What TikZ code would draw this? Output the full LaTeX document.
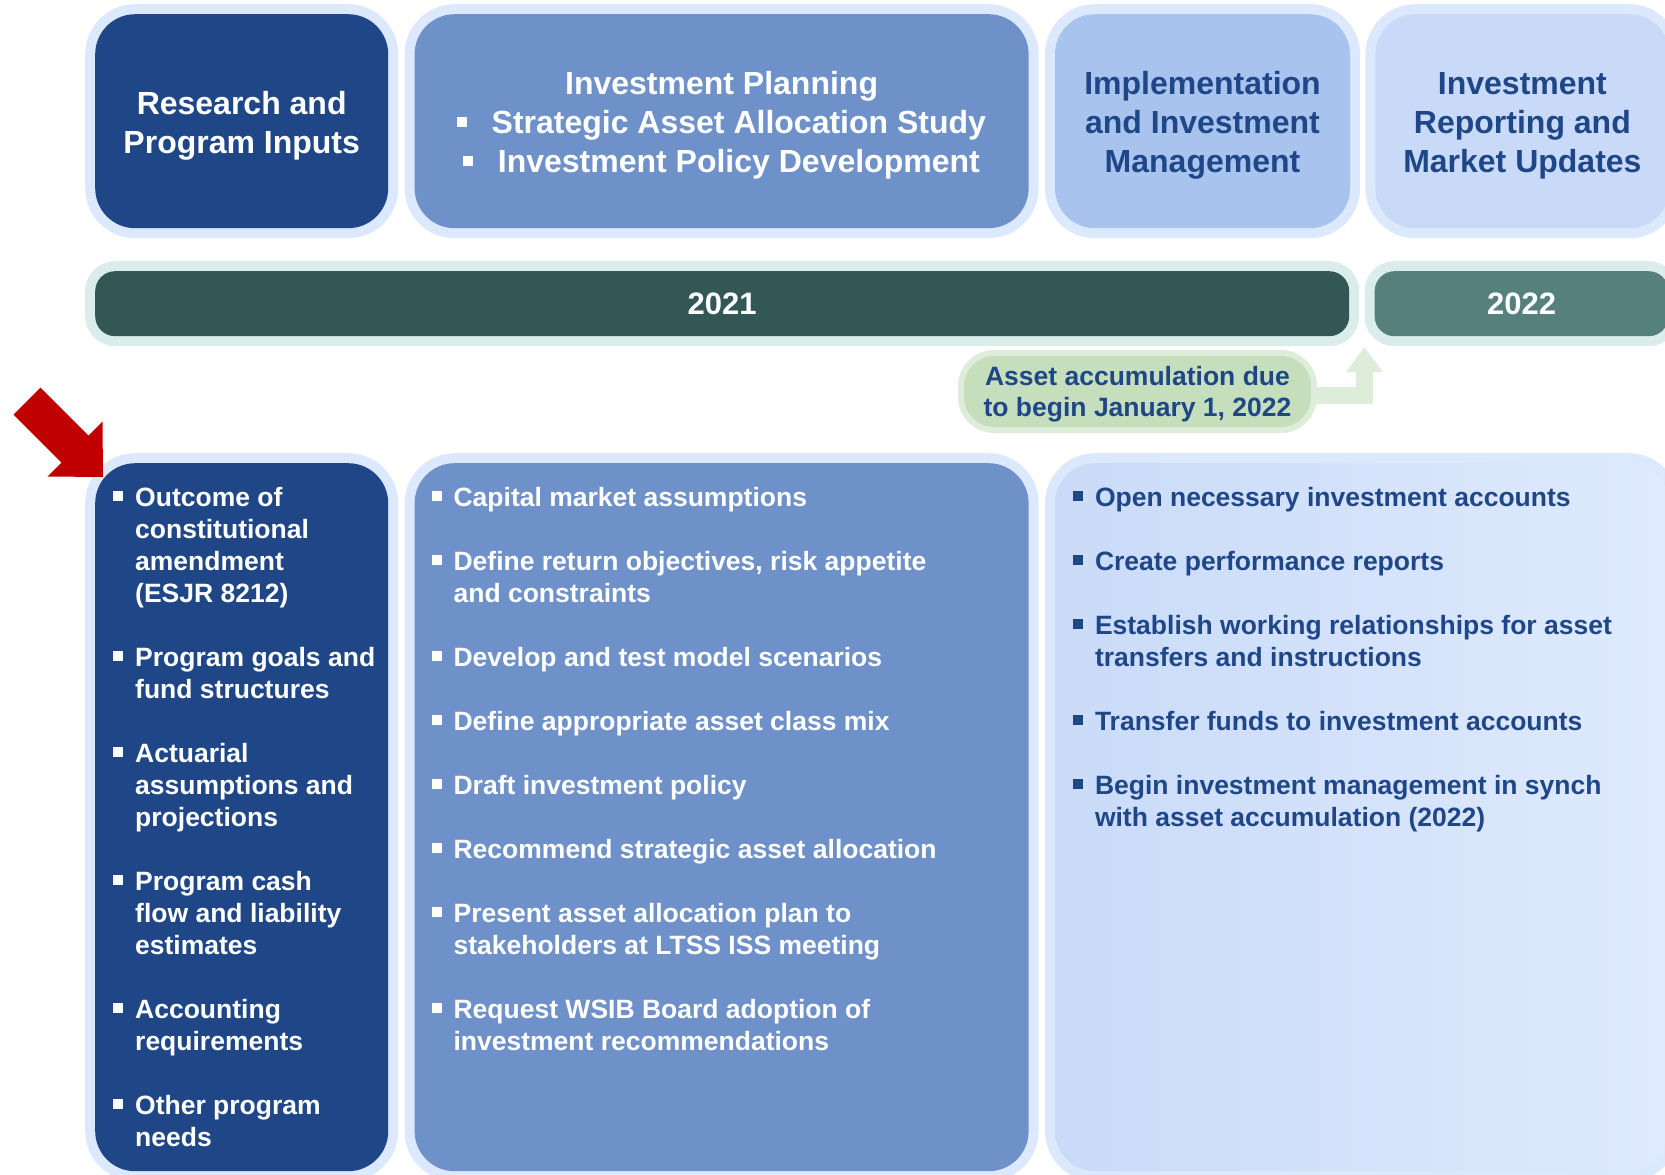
\documentclass[tikz,border=0pt]{standalone}
\usepackage{fontspec}
\setmainfont{Liberation Sans}
\usetikzlibrary{positioning,calc,arrows.meta}
\definecolor{navy}{HTML}{1F4788}
\definecolor{planblue}{HTML}{6E91C9}
\definecolor{implblue}{HTML}{A8C3EE}
\definecolor{reptblue}{HTML}{C8DAF8}
\definecolor{halo}{HTML}{DCE8FC}
\definecolor{colleft}{HTML}{C9DBF8}
\definecolor{colright}{HTML}{DFEAFD}
\definecolor{yrdark}{HTML}{325755}
\definecolor{yrlight}{HTML}{55807C}
\definecolor{yrhalo}{HTML}{DAEDEB}
\definecolor{notegreen}{HTML}{C5DFBD}
\definecolor{notehalo}{HTML}{DEEDD9}
\definecolor{arrowred}{HTML}{C00000}

\newcommand{\sqb}{\rule[5pt]{10pt}{10pt}}
\newcommand{\topsq}{\rule[7pt]{9.5pt}{9.5pt}\hspace{25pt}}
\newcommand{\headstrut}{\rule{0pt}{32pt}}
\newcommand{\notestrut}{\rule{0pt}{25pt}}

\tikzset{
  stage/.style={rounded corners=40pt, inner sep=0pt, minimum height=214pt, align=center,
    font=\fontsize{32}{39}\selectfont\bfseries, preaction={draw=halo, line width=20pt}},
  yearbar/.style={rounded corners=20pt, inner sep=0pt, minimum height=65pt, text=white,
    font=\fontsize{31}{37}\selectfont\bfseries, preaction={draw=yrhalo, line width=20pt}},
  column/.style={rounded corners=40pt, inner sep=0pt, minimum height=708pt,
    preaction={draw=halo, line width=20pt}},
  listtext/.style={inner sep=0pt, anchor=base west, font=\fontsize{26.5}{32}\selectfont\bfseries},
  note/.style={rounded corners=30pt, inner sep=0pt, fill=notegreen, text=navy, align=center,
    minimum width=347pt, minimum height=71pt, font=\fontsize{26.5}{31}\selectfont\bfseries,
    preaction={draw=notehalo, line width=12pt}},
  noteline/.style={draw=notehalo, line width=17pt, line join=miter,
    -{Triangle[width=35pt,length=25pt]}}
}

\begin{document}
\begin{tikzpicture}[x=1pt, y=-1pt, node distance=26pt]
  \useasboundingbox (0,0) rectangle (1665,1175);

  % phases
  \node[stage, fill=navy, text=white, minimum width=293pt, anchor=north west] (research) at (95,14)
    {\headstrut Research and\\Program Inputs};
  \node[stage, fill=planblue, text=white, minimum width=614pt, right=of research] (planning)
    {\headstrut Investment Planning\\\topsq Strategic Asset Allocation Study\\\topsq Investment Policy Development};
  \node[stage, fill=implblue, text=navy, minimum width=295pt, right=of planning] (implement)
    {\headstrut Implementation\\and Investment\\Management};
  \node[stage, fill=reptblue, text=navy, minimum width=294pt, right=25pt of implement] (reporting)
    {\headstrut Investment\\Reporting and\\Market Updates};

  % years
  \node[yearbar, fill=yrdark, minimum width=1254pt, anchor=north west] (yr2021) at (95,271) {2021};
  \node[yearbar, fill=yrlight, minimum width=294pt, right=25pt of yr2021] (yr2022) {2022};

  \coordinate (notetip) at (1364.5,347);
  \node[note] (note) at (1137.5,391.5) {\notestrut Asset accumulation due\\to begin January 1, 2022};
  \draw[noteline] (note.east) ++(0,4) -| (notetip);

  % task columns
  \node[column, fill=navy, minimum width=293pt, anchor=north west] (inputs) at (95,463) {};
  \node[column, fill=planblue, minimum width=614pt, right=of inputs] (plantasks) {};
  \node[column, left color=colleft, right color=colright, minimum width=614pt, right=of plantasks] (impltasks) {};

  \node[listtext, text=white] (inputlist) at ($(inputs.north west)+(18,43)$) {%
    \begin{tabular}[t]{@{}l@{\hspace{12pt}}l@{}}
      \sqb & Outcome of\\
           & constitutional\\
           & amendment\\
           & (ESJR 8212)\\[32pt]
      \sqb & Program goals and\\
           & fund structures\\[32pt]
      \sqb & Actuarial\\
           & assumptions and\\
           & projections\\[32pt]
      \sqb & Program cash\\
           & flow and liability\\
           & estimates\\[32pt]
      \sqb & Accounting\\
           & requirements\\[32pt]
      \sqb & Other program\\
           & needs
    \end{tabular}};

  \node[listtext, text=white] (planlist) at ($(plantasks.north west)+(17,43)$) {%
    \begin{tabular}[t]{@{}l@{\hspace{12pt}}l@{}}
      \sqb & Capital market assumptions\\[32pt]
      \sqb & Define return objectives, risk appetite\\
           & and constraints\\[32pt]
      \sqb & Develop and test model scenarios\\[32pt]
      \sqb & Define appropriate asset class mix\\[32pt]
      \sqb & Draft investment policy\\[32pt]
      \sqb & Recommend strategic asset allocation\\[32pt]
      \sqb & Present asset allocation plan to\\
           & stakeholders at LTSS ISS meeting\\[32pt]
      \sqb & Request WSIB Board adoption of\\
           & investment recommendations
    \end{tabular}};

  \node[listtext, text=navy] (impllist) at ($(impltasks.north west)+(18,43)$) {%
    \begin{tabular}[t]{@{}l@{\hspace{12pt}}l@{}}
      \sqb & Open necessary investment accounts\\[32pt]
      \sqb & Create performance reports\\[32pt]
      \sqb & Establish working relationships for asset\\
           & transfers and instructions\\[32pt]
      \sqb & Transfer funds to investment accounts\\[32pt]
      \sqb & Begin investment management in synch\\
           & with asset accumulation (2022)
    \end{tabular}};

  % pointer
  \fill[arrowred] (13.5,414.5) -- (40.5,387.5) -- (88.5,435.5) -- (102.5,421.5)
    -- (103,477) -- (47.5,476.5) -- (61.5,462.5) -- cycle;
\end{tikzpicture}
\end{document}
